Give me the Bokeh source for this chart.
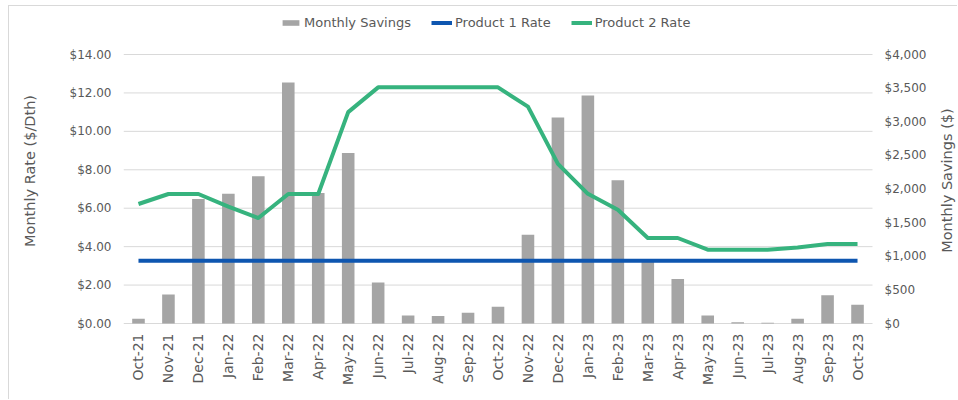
import math
from bokeh.plotting import figure
from bokeh.models import (Range1d, LinearAxis, NumeralTickFormatter, FixedTicker,
                          Legend, LegendItem, ColumnDataSource, Label)
from bokeh.embed import file_html
from bokeh.resources import INLINE

months = ["Oct-21", "Nov-21", "Dec-21", "Jan-22", "Feb-22", "Mar-22", "Apr-22",
          "May-22", "Jun-22", "Jul-22", "Aug-22", "Sep-22", "Oct-22", "Nov-22",
          "Dec-22", "Jan-23", "Feb-23", "Mar-23", "Apr-23", "May-23", "Jun-23",
          "Jul-23", "Aug-23", "Sep-23", "Oct-23"]

monthly_savings = [70, 430, 1850, 1930, 2190, 3585, 1940, 2535, 610, 120, 110, 160,
                   250, 1320, 3065, 3390, 2130, 930, 660, 120, 20, 10, 70, 420, 280]

product1_rate = [3.26, 3.26, 3.26, 3.26, 3.26, 3.26, 3.26, 3.26, 3.26, 3.26, 3.26,
                 3.26, 3.26, 3.26, 3.26, 3.26, 3.26, 3.26, 3.26, 3.26, 3.26, 3.26,
                 3.26, 3.26, 3.26]

product2_rate = [6.22, 6.74, 6.74, 6.08, 5.49, 6.74, 6.74, 11.0, 12.29, 12.29, 12.29,
                 12.29, 12.29, 11.29, 8.31, 6.75, 5.92, 4.45, 4.45, 3.84, 3.84, 3.84,
                 3.95, 4.14, 4.14]

rate_ticks = [0, 2, 4, 6, 8, 10, 12, 14]
savings_ticks = [0, 500, 1000, 1500, 2000, 2500, 3000, 3500, 4000]

FONT = "DejaVu Sans"
TXT = "#595959"
GRID = "#d9d9d9"

n = len(months)
idx = list(range(n))
X_START = -0.5
X_END = n - 0.5

# frame: 123..958 px wide (749 px for the 25 months),
# 10..331 px tall (269 px for 0..14, 44 px above, 8 px below)
FRAME_W, CAT_W = 835, 749
AX_H, TOP_PAD, BOT_PAD = 269, 44, 8
RATE_MAX, SAV_MAX = rate_ticks[-1], savings_ticks[-1]
rate_range = Range1d(-RATE_MAX * BOT_PAD / AX_H, RATE_MAX * (AX_H + TOP_PAD) / AX_H)
sav_range = Range1d(-SAV_MAX * BOT_PAD / AX_H, SAV_MAX * (AX_H + TOP_PAD) / AX_H)
X_RANGE_END = X_START + n * FRAME_W / CAT_W

src = ColumnDataSource(dict(x=idx, month=months, savings=monthly_savings,
                            p1=product1_rate, p2=product2_rate))

p = figure(x_range=Range1d(X_START, X_RANGE_END), y_range=rate_range,
           width=949, height=394, output_backend="svg", toolbar_location=None,
           min_border_left=114, min_border_right=0, min_border_top=4,
           min_border_bottom=69)
p.styles = {"margin-left": "8px", "margin-top": "5px",
            "border-left": "1px solid #d9d9d9", "border-top": "1px solid #d9d9d9"}
p.extra_y_ranges = {"sav": sav_range}
p.outline_line_color = None
p.background_fill_color = "white"
p.border_fill_color = "white"

# horizontal gridlines (and the $0 baseline) limited to the month span
p.xgrid.visible = False
p.ygrid.visible = False
p.segment(x0=[X_START] * len(rate_ticks), x1=[X_END] * len(rate_ticks),
          y0=rate_ticks, y1=rate_ticks, line_color=GRID, line_width=1,
          level="underlay")

bars = p.vbar(x="x", top="savings", width=0.42, source=src, y_range_name="sav",
              fill_color="#A5A5A5", line_color=None)
l1 = p.line(x="x", y="p1", source=src, line_color="#0E56B0", line_width=4)
l2 = p.line(x="x", y="p2", source=src, line_color="#36B37E", line_width=4,
            line_join="round")

# left axis
ya = p.yaxis[0]
ya.ticker = FixedTicker(ticks=rate_ticks)
ya.formatter = NumeralTickFormatter(format="$0.00")
ya.axis_line_color = None
ya.major_tick_line_color = None
ya.minor_tick_line_color = None
ya.major_tick_out = 0
ya.major_tick_in = 0
ya.major_label_standoff = 12
ya.major_label_text_font = FONT
ya.major_label_text_font_size = "12px"
ya.major_label_text_color = TXT
ya.axis_label = "Monthly Rate ($/Dth)"
ya.axis_label_text_font = FONT
ya.axis_label_text_font_size = "14.5px"
ya.axis_label_text_font_style = "normal"
ya.axis_label_text_color = TXT
ya.axis_label_standoff = 29

# right axis, pinned at the right end of the month span
ra = LinearAxis(y_range_name="sav", fixed_location=X_END)
ra.ticker = FixedTicker(ticks=savings_ticks)
ra.formatter = NumeralTickFormatter(format="$0,0")
ra.axis_line_color = None
ra.major_tick_line_color = None
ra.minor_tick_line_color = None
ra.major_tick_out = 0
ra.major_tick_in = 0
ra.major_label_standoff = 12
ra.major_label_text_font = FONT
ra.major_label_text_font_size = "12px"
ra.major_label_text_color = TXT
p.add_layout(ra, "right")

p.add_layout(Label(x=X_END + 2.47, y=7.44, text="Monthly Savings ($)",
                   angle=math.pi / 2, text_align="center", text_baseline="middle",
                   text_font=FONT, text_font_size="14.5px", text_color=TXT))

# x axis
xa = p.xaxis[0]
xa.ticker = FixedTicker(ticks=idx)
xa.major_label_overrides = {i: m for i, m in zip(idx, months)}
xa.axis_line_color = None
xa.major_tick_line_color = None
xa.minor_tick_line_color = None
xa.major_tick_out = 0
xa.major_tick_in = 0
xa.major_label_standoff = 2
xa.major_label_orientation = math.pi / 2
xa.major_label_text_font = FONT
xa.major_label_text_font_size = "14px"
xa.major_label_text_color = TXT

legend = Legend(items=[LegendItem(label="Monthly Savings", renderers=[bars]),
                       LegendItem(label="Product 1 Rate", renderers=[l1]),
                       LegendItem(label="Product 2 Rate", renderers=[l2])],
                orientation="horizontal", location=(157, 301),
                glyph_width=21, glyph_height=7, label_standoff=3, spacing=20,
                padding=0, margin=0, border_line_color=None,
                background_fill_alpha=0,
                label_text_font=FONT, label_text_font_size="13px",
                label_text_color=TXT)
p.add_layout(legend, "center")

open("out.html", "w").write(file_html(p, INLINE))
